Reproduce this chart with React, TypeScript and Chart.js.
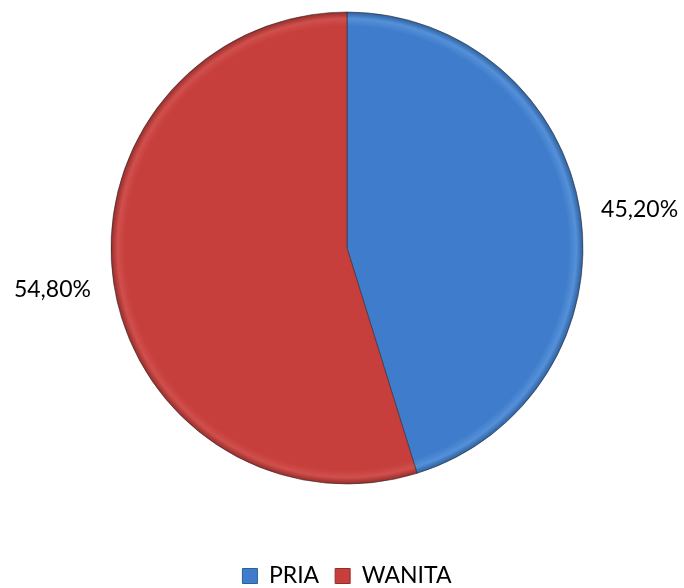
import React, { useEffect, useRef } from "react";
import { Chart, registerables } from "chart.js";

Chart.register(...registerables);

const categories = ["PRIA", "WANITA"];
const values = [45.2, 54.8];
const valueLabels = ["45,20%", "54,80%"];

const baseColors = ["#3F7DCC", "#C63F3C"];
const edgeColors = ["#2D5F9E", "#952C2A"];
const lightColors = ["#5590D8", "#D04F4C"];

const FONT = "Lato, 'Noto Sans', sans-serif";

const labelPlugin = {
  id: "outsideLabels",
  afterDatasetsDraw(chart: any) {
    const ctx = chart.ctx;
    const meta = chart.getDatasetMeta(0);
    ctx.save();
    ctx.font = "23px " + FONT;
    ctx.fillStyle = "#000";
    ctx.textBaseline = "middle";
    meta.data.forEach((arc: any, i: number) => {
      const { x, y, startAngle, endAngle, outerRadius } = arc.getProps(
        ["x", "y", "startAngle", "endAngle", "outerRadius"],
        true
      );
      const mid = (startAngle + endAngle) / 2;
      const r = outerRadius + 20;
      const px = x + Math.cos(mid) * r;
      const py = y + Math.sin(mid) * r;
      const right = Math.cos(mid) >= 0;
      ctx.textAlign = right ? "left" : "right";
      ctx.fillText(valueLabels[i], px + (right ? 1 : -3), py + (right ? 0 : 3));
    });
    ctx.restore();
  },
};

export default function App() {
  const ref = useRef<HTMLCanvasElement | null>(null);
  useEffect(() => {
    document.body.style.margin = "0";
    const canvas = ref.current!;
    const chart = new Chart(canvas, {
      type: "pie",
      data: {
        labels: categories,
        datasets: [
          {
            data: values,
            radius: 236,
            backgroundColor: (c: any) => {
              const i = c.dataIndex;
              const chartObj = c.chart;
              const area = chartObj.chartArea;
              if (!area) return baseColors[i];
              const cx = (area.left + area.right) / 2;
              const cy = (area.top + area.bottom) / 2;
              const r = 236;
              const g = chartObj.ctx.createRadialGradient(cx, cy, 0, cx, cy, r);
              g.addColorStop(0, baseColors[i]);
              g.addColorStop(0.94, baseColors[i]);
              g.addColorStop(0.972, lightColors[i]);
              g.addColorStop(1, edgeColors[i]);
              return g;
            },
            borderColor: "rgba(40,40,40,0.55)",
            borderWidth: 1,
          },
        ],
      },
      options: {
        animation: false,
        responsive: false,
        maintainAspectRatio: false,
        layout: { padding: { top: 0, left: 10, right: 0, bottom: -9.5 } },
        plugins: {
          legend: {
            position: "bottom",
            title: {
              display: true,
              text: " ",
              color: "rgba(0,0,0,0)",
              font: { size: 10 },
              padding: { top: 40.5, bottom: 0 },
            },
            labels: {
              font: { size: 23, family: FONT },
              color: "#000",
              boxWidth: 15,
              boxHeight: 15,
              padding: 16,
              generateLabels: () =>
                categories.map((c, i) => ({
                  text: c,
                  fillStyle: baseColors[i],
                  strokeStyle: edgeColors[i],
                  fontColor: "#000",
                  lineWidth: 1,
                  hidden: false,
                  index: i,
                  datasetIndex: 0,
                })),
            },
          },
          tooltip: { enabled: false },
        },
      },
      plugins: [labelPlugin],
    });
    return () => chart.destroy();
  }, []);
  return (
    <div style={{ position: "absolute", left: 0, top: 0, width: 684, height: 588, background: "#fff" }}>
      <canvas ref={ref} width={684} height={588} style={{ width: 684, height: 588 }} />
    </div>
  );
}
